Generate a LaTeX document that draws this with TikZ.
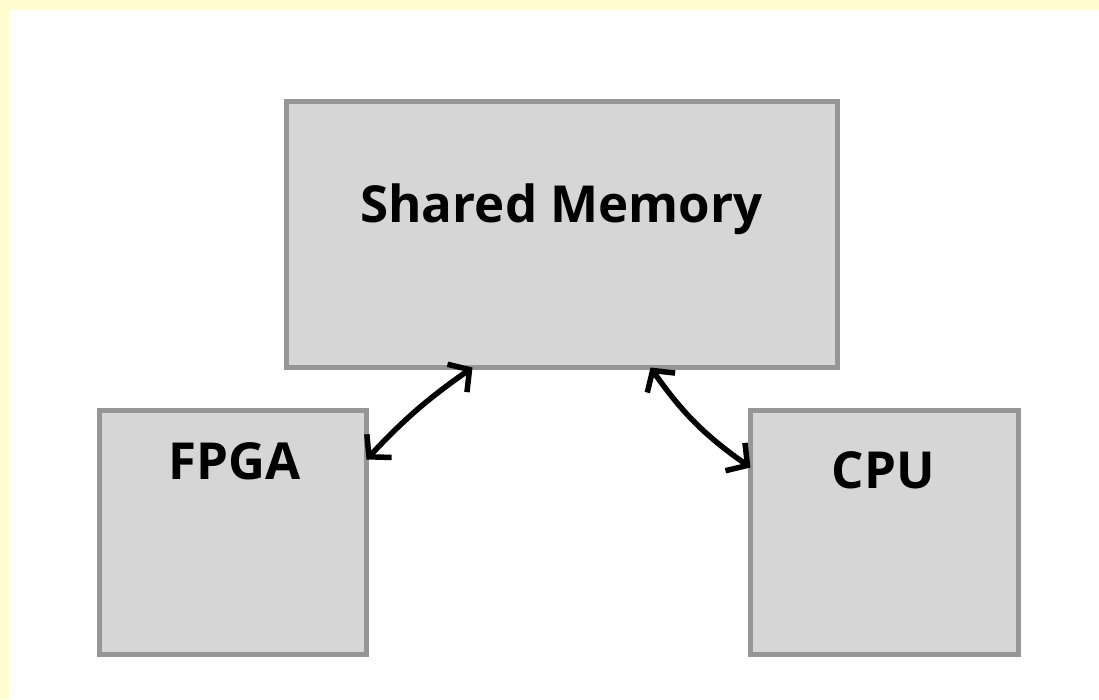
\documentclass[tikz,border=0pt]{standalone}
\usepackage{fontspec}
\setmainfont{Open Sans}
\usetikzlibrary{arrows.meta}
\definecolor{frameyellow}{RGB}{255,253,208}
\definecolor{boxfill}{RGB}{214,214,214}
\definecolor{boxline}{RGB}{150,150,150}
\tikzset{
  blockbox/.style={draw=boxline, fill=boxfill, line width=5pt, inner sep=0pt, outer sep=0pt},
  blocktext/.style={anchor=base, font=\fontsize{51}{60}\selectfont\bfseries, inner sep=0pt},
  link/.style={line width=5.5pt, black, {Straight Barb[length=15pt,width=34pt]}-{Straight Barb[length=15pt,width=34pt]}}
}
\begin{document}
\begin{tikzpicture}[x=1pt,y=-1pt]
\useasboundingbox (0,0) rectangle (1099,699);
\fill[white] (0,0) rectangle (1099,699);
\fill[frameyellow] (0,0) rectangle (1099,9.5);
\fill[frameyellow] (0,0) rectangle (9,699);
% boxes (outer edges)
\node[blockbox, minimum width=551pt, minimum height=266pt] (mem) at (562,234.5) {};
\node[blockbox, minimum width=267pt, minimum height=244pt] (fpga) at (233,532.5) {};
\node[blockbox, minimum width=268pt, minimum height=244pt] (cpu) at (884.5,532.5) {};
% labels
\node[blocktext] (memtext) at (561.5,222) {Shared Memory};
\node[blocktext] (fpgatext) at (234.5,479) {FPGA};
\node[blocktext] (cputext) at (883.5,488) {CPU};
% connectors
\coordinate (fpgaport) at ([yshift=-49pt]fpga.north east);
\coordinate (memportl) at ([xshift=186pt]mem.south west);
\coordinate (memportr) at ([xshift=364pt]mem.south west);
\coordinate (cpuport) at ([yshift=-57pt]cpu.north west);
\draw[link] (fpgaport) to[bend left=6] (memportl);
\draw[link] (memportr) to[bend right=10] (cpuport);
\end{tikzpicture}
\end{document}
